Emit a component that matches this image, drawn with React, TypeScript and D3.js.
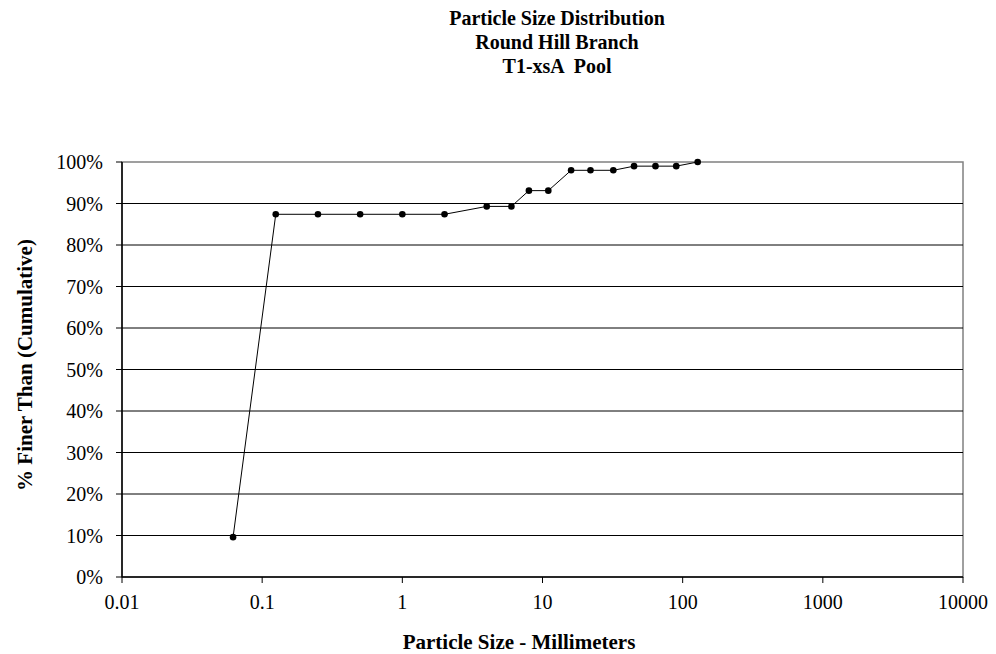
import React from "react";
import * as d3 from "d3";

const sizesMm = [0.062, 0.125, 0.25, 0.5, 1, 2, 4, 6, 8, 11, 16, 22, 32, 45, 64, 90, 128];
const percentFiner = [9.6, 87.4, 87.4, 87.4, 87.4, 87.4, 89.3, 89.3, 93.1, 93.1, 98, 98, 98, 99, 99, 99, 100];
const xTicks = [0.01, 0.1, 1, 10, 100, 1000, 10000];
const yTicks = [0, 10, 20, 30, 40, 50, 60, 70, 80, 90, 100];
const titleLines = ["Particle Size Distribution", "Round Hill Branch", "T1-xsA  Pool"];

export default function App() {
  const W = 996, H = 654;
  const left = 122, right = 963, top = 162, bottom = 577;
  const x = d3.scaleLog().domain([0.01, 10000]).range([left, right]);
  const y = d3.scaleLinear().domain([0, 100]).range([bottom, top]);
  const pts = sizesMm.map((s, i) => [s, percentFiner[i]] as [number, number]);
  const line = d3.line<[number, number]>().x(d => x(d[0])).y(d => y(d[1]));
  const font = "'Liberation Serif', 'Times New Roman', serif";
  return (
    <svg width={W} height={H} style={{ position: "absolute", left: 0, top: 0, background: "#fff" }} fontFamily={font}>
      {titleLines.map((t, i) => (
        <text key={t} x={557} y={25 + i * 24} textAnchor="middle" fontWeight="bold" fontSize={20} style={{ whiteSpace: "pre" }}>{t}</text>
      ))}
      <rect x={left} y={top} width={right - left} height={bottom - top} fill="none" stroke="#808080" strokeWidth={1.5} />
      {yTicks.filter(v => v > 0 && v < 100).map(v => (
        <line key={v} x1={left} x2={right} y1={y(v)} y2={y(v)} stroke="#000" strokeWidth={1} />
      ))}
      <line x1={left} x2={left} y1={top} y2={bottom} stroke="#000" strokeWidth={1.5} />
      <line x1={left} x2={right} y1={bottom} y2={bottom} stroke="#000" strokeWidth={1.5} />
      {yTicks.map(v => (
        <g key={v}>
          <line x1={left - 6} x2={left} y1={y(v)} y2={y(v)} stroke="#000" />
          <text x={103} y={y(v)} dy="0.35em" textAnchor="end" fontSize={20}>{v}%</text>
        </g>
      ))}
      {xTicks.map(v => (
        <g key={v}>
          <line x1={x(v)} x2={x(v)} y1={bottom} y2={bottom + 6} stroke="#000" />
          <text x={x(v)} y={609} textAnchor="middle" fontSize={20}>{String(v)}</text>
        </g>
      ))}
      <path d={line(pts) || ""} fill="none" stroke="#000" strokeWidth={1} />
      {pts.map((p, i) => (
        <circle key={i} cx={x(p[0])} cy={y(p[1])} r={3.3} fill="#000" />
      ))}
      <text x={519} y={649} textAnchor="middle" fontWeight="bold" fontSize={21}>Particle Size - Millimeters</text>
      <text transform={`translate(32,365) rotate(-90)`} textAnchor="middle" fontWeight="bold" fontSize={21}>% Finer Than (Cumulative)</text>
    </svg>
  );
}
